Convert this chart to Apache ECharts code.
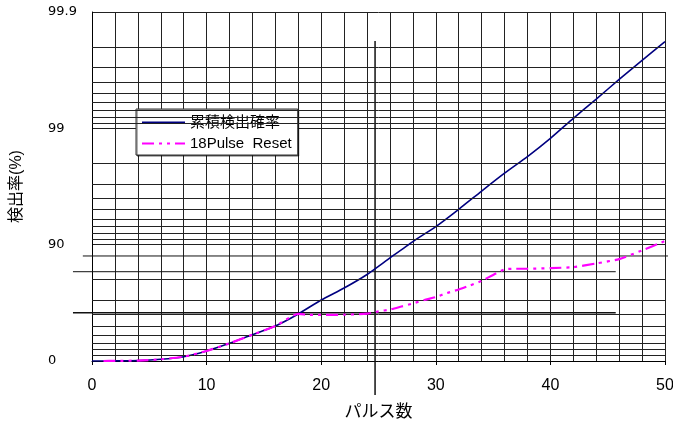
<!DOCTYPE html>
<html>
<head>
<meta charset="utf-8">
<script src="https://cdn.jsdelivr.net/npm/echarts@6/dist/echarts.min.js"></script>
<style>
html,body{margin:0;padding:0;background:#fff;}
#chart{width:673px;height:423px;}
</style>
</head>
<body>
<div id="chart"></div>
<script>
// ---- data (x: pulse count, y: detection probability %) ----
const pulses = [0,2,4,6,8,10,12,14,16,18,20,22,24,26,28,30,32,34,36,38,40,42,44,46,48,50];
const cumDetect = [0,0.2,0.8,3.3,8.2,18,29.5,40.6,50,60.6,70.1,76.4,81.95,87.0,90.6,93.0,95.03,96.54,97.57,98.25,98.78,99.18,99.44,99.62,99.74,99.82];

const pulsesReset = [1,2,4,6,8,10,12,14,16,18,19,20,22,24,25,26,27,28,29,30,31,32,33,34,35,36,37,38,40,42,44,46,48,50];
const resetDetect = [0,0.2,0.8,3.3,8.2,18,29.5,40.6,50,60.6,59.8,59.8,60.0,60.8,62.5,63.9,66.0,68.0,70.1,71.8,74.0,75.7,77.6,79.5,81.8,83.7,83.9,83.9,84.1,84.4,85.5,86.7,88.8,90.7];

const seriesNames = ['累積検出確率', '18Pulse  Reset'];
const yTickLabels = ['0', '90', '99', '99.9'];
const xTickLabels = ['0', '10', '20', '30', '40', '50'];

// probability axis: plotted as miss-rate (100 - p) on an inverted log axis
const toMiss = p => 100 - p;
const blueData = pulses.map((x, i) => [x, toMiss(cumDetect[i])]);
const pinkData = pulsesReset.map((x, i) => [x, toMiss(resetDetect[i])]);

// minor horizontal grid values (miss-rate %)
const minorGrid = [];
[0.1, 1, 10].forEach(d => { for (let k = 2; k <= 9; k++) minorGrid.push(+(d * k).toFixed(3)); });

const FONT = '"Liberation Sans", "Noto Sans CJK JP", sans-serif';
const NUMFONT = '"DejaVu Sans", sans-serif';
const chart = echarts.init(document.getElementById('chart'), null, {renderer: 'canvas'});

const option = {
  animation: false,
  backgroundColor: '#fff',
  grid: {left: 92, right: 8, top: 12, bottom: 62, containLabel: false, outerBoundsMode: 'none'},
  xAxis: [{
    type: 'value', min: 0, max: 50, interval: 2,
    axisLine: {show: true, onZero: false, lineStyle: {color: '#000', width: 1}},
    axisTick: {show: false},
    axisLabel: {show: false},
    splitLine: {show: true, lineStyle: {color: '#222', width: 1}}
  }, {
    type: 'value', min: 0, max: 50, interval: 10, position: 'bottom',
    axisLine: {show: false, onZero: false},
    axisTick: {show: true, length: 4, lineStyle: {color: '#000'}},
    axisLabel: {show: true, margin: 17, fontSize: 16, color: '#000', fontFamily: FONT,
      formatter: v => xTickLabels[Math.round(v / 10)] || ''},
    splitLine: {show: false},
    name: 'パルス数', nameLocation: 'middle', nameGap: 43,
    nameTextStyle: {fontSize: 17, color: '#000', fontFamily: FONT}
  }],
  yAxis: {
    type: 'log', logBase: 10, min: 0.1, max: 100, inverse: true,
    axisLine: {show: true, lineStyle: {color: '#000', width: 1}},
    axisTick: {show: false},
    axisLabel: {
      align: 'left', margin: 44, fontSize: 13, color: '#000', fontFamily: NUMFONT,
      formatter: v => {
        const idx = {0.1: 3, 1: 2, 10: 1, 100: 0}[+v.toPrecision(3)];
        return idx === undefined ? '' : yTickLabels[idx];
      }
    },
    splitLine: {show: true, lineStyle: {color: '#222', width: 1}},
    name: '検出率(%)', nameLocation: 'middle', nameRotate: 90, nameGap: 67,
    nameTextStyle: {fontSize: 16, color: '#000', fontFamily: FONT}
  },
  legend: {
    orient: 'vertical', left: 136, top: 109,
    data: seriesNames,
    itemWidth: 43, itemHeight: 14, itemGap: 6,
    padding: [6, 6, 4, 5],
    backgroundColor: '#fff', borderColor: '#333', borderWidth: 1,
    shadowColor: 'rgba(0,0,0,0.6)', shadowOffsetX: 1, shadowOffsetY: 1, shadowBlur: 0,
    itemStyle: {opacity: 0},
    textStyle: {fontSize: 15, color: '#000', fontFamily: FONT}
  },
  series: [
    {
      name: 'grid', type: 'line', data: [], z: 1, silent: true,
      markLine: {
        silent: true, symbol: ['none', 'none'], label: {show: false}, animation: false,
        lineStyle: {color: '#222', width: 1, type: 'solid'},
        emphasis: {disabled: true},
        data: minorGrid.map(v => ({yAxis: v}))
      }
    },
    {
      name: seriesNames[0], type: 'line', data: blueData, symbol: 'none', smooth: 0.2, z: 4,
      lineStyle: {color: '#000080', width: 1.6}, itemStyle: {color: '#000080'}
    },
    {
      name: seriesNames[1], type: 'line', data: pinkData, symbol: 'none', smooth: 0.2, z: 5,
      lineStyle: {color: '#FF00FF', width: 2.2, type: [12, 5, 3, 5, 3, 5]}, itemStyle: {color: '#FF00FF'}
    }
  ]
};
chart.setOption(option);

// annotation lines (drawn in the original as free lines), defined in axis values
const refLines = [
  {from: [-0.8, 12.51], to: [50.26, 12.51], w: 1},
  {from: [-1.66, 17.08], to: [45.7, 17.08], w: 1},
  {from: [-1.66, 38.45], to: [45.7, 38.45], w: 1.5},
  {from: [24.7, 0.1775], to: [24.7, 196], w: 1.5}
];
const graphic = refLines.map(l => {
  const a = chart.convertToPixel({gridIndex: 0}, l.from);
  const b = chart.convertToPixel({gridIndex: 0}, l.to);
  return {type: 'line', z: 2, silent: true,
    shape: {x1: a[0], y1: a[1], x2: b[0], y2: b[1]},
    style: {stroke: '#111', lineWidth: l.w}};
});
chart.setOption({graphic: graphic});
</script>
</body>
</html>
